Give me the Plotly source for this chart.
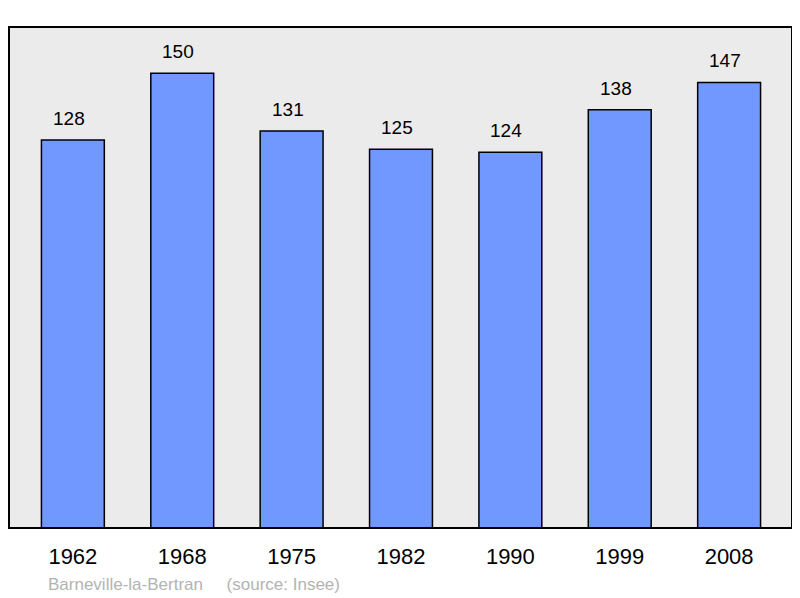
import plotly.graph_objects as go

years = ['1962', '1968', '1975', '1982', '1990', '1999', '2008']
population = [128, 150, 131, 125, 124, 138, 147]

bar_color = '#7098ff'
bg_color = '#ebebeb'

fig = go.Figure()

fig.add_trace(go.Bar(
    x=years,
    y=population,
    width=0.575,
    marker=dict(color=bar_color, line=dict(color='#000000', width=1.5)),
    hoverinfo='x+y',
))

# value labels above the bars (x as category index, numeric strings confuse annotations)
for i, val in enumerate(population):
    fig.add_annotation(
        x=i, y=val, text=str(val),
        showarrow=False, yanchor='bottom', yshift=9, xshift=-4,
        font=dict(family='Liberation Sans, Arial', size=19, color='#000000'),
    )

# footer
fig.add_annotation(
    xref='paper', yref='paper', x=0.047, y=-0.112,
    xanchor='left', yanchor='middle', showarrow=False,
    text='Barneville-la-Bertran\u00a0\u00a0\u00a0\u00a0\u00a0(source: Insee)',
    font=dict(family='Liberation Sans, Arial', size=17, color='#b3b3b3'),
)

# plot frame
fig.add_shape(
    type='rect', xref='paper', yref='paper', x0=0, x1=1, y0=0, y1=1,
    line=dict(color='#000000', width=2), layer='above',
)

# page body has an 8px margin, so the figure is 8px smaller than the window
fig.update_layout(
    width=792, height=590,
    margin=dict(l=1, r=8, t=19, b=70),
    paper_bgcolor='#ffffff',
    plot_bgcolor=bg_color,
    showlegend=False,
    font=dict(family='Liberation Sans, Arial', color='#000000'),
)

fig.update_xaxes(
    type='category', range=[-0.584, 6.575],
    showgrid=False, zeroline=False, showline=False,
    ticks='', tickfont=dict(size=22), ticklabelstandoff=13,
)
fig.update_yaxes(
    range=[0, 165.3], showgrid=False, zeroline=False,
    showticklabels=False, showline=False,
)

fig.write_html("out.html")
